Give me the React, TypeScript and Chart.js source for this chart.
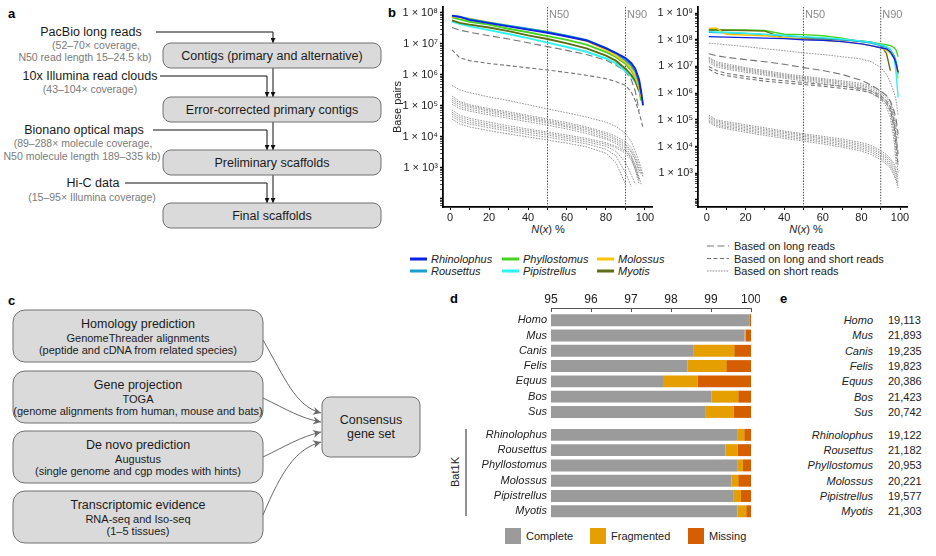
import React, { useEffect, useRef } from 'react';
import { Chart, registerables } from 'chart.js';

Chart.register(...registerables);

const FONT = '"Liberation Sans", Arial, Helvetica, sans-serif';
Chart.defaults.font.family = FONT;
Chart.defaults.color = '#222';

// ---------------- Panel b data ----------------
const N_PERCENT = [1, 5, 10, 20, 30, 40, 50, 60, 70, 80, 85, 90, 93, 95, 97, 98, 99];
const N_MARKERS = [50, 90];

// contig N(x) (left plot)
const CONTIG_RHINOLOPHUS = [8.2e7, 7.5e7, 6.0e7, 4.7e7, 3.7e7, 2.9e7, 2.3e7, 1.75e7, 1.3e7, 7.2e6, 5.2e6, 3.5e6, 2.4e6, 1.6e6, 7e5, 3e5, 1.05e5];
const CONTIG_ROUSETTUS = [8.0e7, 7.6e7, 6.3e7, 4.9e7, 3.9e7, 3.1e7, 2.45e7, 1.85e7, 1.35e7, 7.5e6, 5.0e6, 3.0e6, 2.0e6, 1.3e6, 5.5e5, 2.5e5, null];
const CONTIG_MOLOSSUS = [7.6e7, 7.2e7, 6.6e7, 5.0e7, 3.8e7, 3.0e7, 2.5e7, 1.8e7, 1.25e7, 6.5e6, 4.2e6, 2.6e6, 1.6e6, 9e5, 4e5, 2e5, null];
const CONTIG_PHYLLOSTOMUS = [7.2e7, 6.2e7, 5.2e7, 4.2e7, 3.1e7, 2.4e7, 1.8e7, 1.35e7, 9.5e6, 5.5e6, 3.8e6, 2.3e6, 1.4e6, 8.5e5, 4e5, 1.5e5, null];
const CONTIG_PIPISTRELLUS = [5.3e7, 4.5e7, 3.7e7, 2.8e7, 2.1e7, 1.55e7, 1.1e7, 8e6, 5.6e6, 3.4e6, 2.4e6, 1.35e6, 9e5, 6e5, 3.5e5, 1.8e5, null];
const CONTIG_MYOTIS = [5.8e7, 4.8e7, 4.2e7, 3.4e7, 2.6e7, 1.9e7, 1.45e7, 1.05e7, 7.2e6, 4.2e6, 2.9e6, 1.6e6, 1e6, 6.5e5, 3e5, null, null];

const CONTIG_LONG_1 = [3.4e7, 2.8e7, 2.4e7, 1.85e7, 1.45e7, 1.1e7, 8.2e6, 6.2e6, 4.6e6, 3e6, 2.1e6, 1.3e6, 7e5, 3e5, 7e4, null, null];
const CONTIG_LONGSHORT_1 = [6.5e6, 3.6e6, 2.9e6, 2.35e6, 2.0e6, 1.7e6, 1.45e6, 1.2e6, 9.8e5, 7.6e5, 6.2e5, 4.6e5, 2.8e5, 1.5e5, 6e4, 3.5e4, 2e4];
const CONTIG_SHORT_1 = [4.6e5, 3.3e5, 2.7e5, 1.95e5, 1.5e5, 1.1e5, 8e4, 6e4, 4.4e4, 3e4, 2.2e4, 1.3e4, 7e3, 3.5e3, 1.6e3, 1e3, 6e2];
const CONTIG_SHORT_2 = [2.1e5, 1.4e5, 1.1e5, 8.2e4, 6.5e4, 5e4, 3.8e4, 2.9e4, 2.1e4, 1.4e4, 1.05e4, 7e3, 4.5e3, 2.5e3, 1.2e3, 8e2, 5e2];
const CONTIG_SHORT_3 = [1.8e5, 1.25e5, 1e5, 7.5e4, 5.8e4, 4.5e4, 3.4e4, 2.6e4, 1.9e4, 1.25e4, 9e3, 6e3, 3.5e3, 2e3, 9e2, 6e2, null];
const CONTIG_SHORT_4 = [1.55e5, 1.1e5, 9e4, 6.8e4, 5.2e4, 4e4, 3.1e4, 2.3e4, 1.7e4, 1.1e4, 8e3, 5.2e3, 3.2e3, 1.8e3, 7e2, null, null];
const CONTIG_SHORT_5 = [1.35e5, 9.5e4, 7.8e4, 6e4, 4.6e4, 3.6e4, 2.8e4, 2.1e4, 1.5e4, 9.5e3, 7e3, 4.5e3, 2.5e3, 1.2e3, 4e2, null, null];
const CONTIG_SHORT_6 = [1.15e5, 8.2e4, 6.8e4, 5.2e4, 4e4, 3.1e4, 2.4e4, 1.8e4, 1.3e4, 8.5e3, 6.2e3, 3.8e3, 2e3, 9e2, 3e2, null, null];
const CONTIG_SHORT_7 = [7.5e4, 5e4, 4e4, 3e4, 2.3e4, 1.8e4, 1.45e4, 1.15e4, 9e3, 6.5e3, 5e3, 3.5e3, 2.2e3, 1.2e3, 5e2, 3e2, null];
const CONTIG_SHORT_8 = [6.3e4, 4.3e4, 3.5e4, 2.6e4, 2e4, 1.6e4, 1.3e4, 1.02e4, 8e3, 5.8e3, 4.5e3, 3e3, 1.8e3, 9e2, 4e2, null, null];
const CONTIG_SHORT_9 = [5.4e4, 3.7e4, 3e4, 2.3e4, 1.8e4, 1.4e4, 1.15e4, 9e3, 7e3, 5e3, 3.5e3, 1.5e3, 6e2, 3e2, null, null, null];
const CONTIG_SHORT_10 = [4.6e4, 3.2e4, 2.6e4, 2e4, 1.55e4, 1.2e4, 9.8e3, 7.8e3, 6e3, 4e3, 2.5e3, 7e2, 2.5e2, null, null, null, null];
const CONTIG_SHORT_11 = [3.8e4, 2.6e4, 2.1e4, 1.6e4, 1.25e4, 1e4, 8e3, 6.3e3, 4.8e3, 3e3, 1.5e3, 3e2, null, null, null, null, null];

// scaffold N(x) (right plot)
const SCAF_RHINOLOPHUS = [1.3e8, 1.28e8, 1.25e8, 1.2e8, 1.15e8, 1.1e8, 1.0e8, 9.5e7, 8.5e7, 7e7, 6e7, 5e7, 4.5e7, 3.5e7, 2e7, 1.2e7, 6e6];
const SCAF_ROUSETTUS = [1.9e8, 1.85e8, 1.8e8, 1.7e8, 1.55e8, 1.4e8, 1.25e8, 1.12e8, 1e8, 8.5e7, 7.5e7, 6e7, 5.2e7, 4.2e7, 2.5e7, 1.5e7, 5e6];
const SCAF_MOLOSSUS = [2.7e8, 2.7e8, 1.6e8, 1.5e8, 1.4e8, 1.2e8, 1.05e8, 9.5e7, 8.5e7, 7e7, 6e7, 5e7, 4e7, 3e7, 2e7, 1e7, 3.5e6];
const SCAF_PHYLLOSTOMUS = [2.3e8, 2.3e8, 2.3e8, 2.3e8, 2.2e8, 1.6e8, 1.55e8, 1.4e8, 1.15e8, 8.5e7, 8e7, 7e7, 6.5e7, 6e7, 5e7, 4e7, 2.3e7];
const SCAF_PIPISTRELLUS = [2e8, 1.95e8, 1.9e8, 1.75e8, 1.6e8, 1.45e8, 1.3e8, 1.2e8, 1.05e8, 9e7, 8e7, 6.5e7, 5.5e7, 4.5e7, 2e7, 5e6, 7e5];
const SCAF_MYOTIS = [2.3e8, 2.3e8, 2.25e8, 2.2e8, 2.1e8, 1.15e8, 1.1e8, 1.05e8, 1e8, 9e7, 8e7, 6.5e7, 3e7, 7e6, null, null, null];

const SCAF_SHORT_TOP = [7.5e7, 7e7, 6.5e7, 5.5e7, 4.6e7, 3.9e7, 3.2e7, 2.8e7, 2.3e7, 1.9e7, 1.5e7, 9e6, 5e6, 2.5e6, 1e6, 5e5, 1.5e5];
const SCAF_LONG_1 = [3e7, 2.5e7, 2.2e7, 1.8e7, 1.5e7, 1.2e7, 9e6, 7e6, 5e6, 3e6, 2e6, 1.2e6, 8e5, 5e5, 2e5, 1e5, 3e4];
const SCAF_SHORT_G1 = [2.2e7, 1.5e7, 1.25e7, 9e6, 7e6, 5.3e6, 4.3e6, 3.5e6, 2.9e6, 2.3e6, 1.8e6, 1.2e6, 8e5, 5e5, 1.5e5, 6e4, 2e4];
const SCAF_SHORT_G2 = [2e7, 1.35e7, 1.1e7, 8.2e6, 6.3e6, 4.8e6, 3.9e6, 3.2e6, 2.6e6, 2e6, 1.6e6, 1e6, 6.5e5, 4e5, 1e5, 3e4, 5e3];
const SCAF_SHORT_G3 = [1.8e7, 1.2e7, 1e7, 7.5e6, 5.8e6, 4.4e6, 3.6e6, 2.9e6, 2.3e6, 1.8e6, 1.4e6, 8.5e5, 5e5, 3e5, 6e4, 1.5e4, 2e3];
const SCAF_SHORT_G4 = [1.6e7, 1.1e7, 9e6, 6.8e6, 5.2e6, 4e6, 3.3e6, 2.6e6, 2.1e6, 1.6e6, 1.2e6, 7e5, 4e5, 2e5, 3e4, 5e3, 1e3];
const SCAF_SHORT_G5 = [1.4e7, 9.5e6, 8e6, 6e6, 4.7e6, 3.6e6, 2.9e6, 2.3e6, 1.8e6, 1.4e6, 1e6, 6e5, 3e5, 1.2e5, 1.5e4, 2e3, null];
const SCAF_LONGSHORT_1 = [1e7, 7e6, 5.5e6, 4.2e6, 3.4e6, 2.9e6, 2.5e6, 2.1e6, 1.8e6, 1.5e6, 1.2e6, 8e5, 5e5, 3e5, 8e4, 2e4, 5e3];
const SCAF_LONGSHORT_2 = [8e6, 5.5e6, 4.5e6, 3.5e6, 2.8e6, 2.4e6, 2.1e6, 1.8e6, 1.5e6, 1.25e6, 1e6, 6.5e5, 4e5, 2.2e5, 5e4, 1e4, 2e3];
const SCAF_SHORT_H1 = [1.5e5, 1e5, 8.5e4, 6.5e4, 5e4, 3.8e4, 3e4, 2.4e4, 1.9e4, 1.4e4, 1.1e4, 7e3, 5e3, 3.5e3, 2.2e3, 1.6e3, 1.2e3];
const SCAF_SHORT_H2 = [1.3e5, 9e4, 7.5e4, 5.7e4, 4.4e4, 3.4e4, 2.7e4, 2.1e4, 1.65e4, 1.2e4, 9.5e3, 6e3, 4.2e3, 3e3, 1.8e3, 1.2e3, 8e2];
const SCAF_SHORT_H3 = [1.15e5, 8e4, 6.7e4, 5e4, 3.9e4, 3e4, 2.4e4, 1.9e4, 1.45e4, 1.05e4, 8.2e3, 5.2e3, 3.6e3, 2.5e3, 1.5e3, 1e3, 6e2];
const SCAF_SHORT_H4 = [1e5, 7e4, 5.9e4, 4.4e4, 3.4e4, 2.6e4, 2.1e4, 1.65e4, 1.25e4, 9e3, 7e3, 4.5e3, 3e3, 2.1e3, 1.2e3, 8e2, 4.5e2];
const SCAF_SHORT_H5 = [9e4, 6.2e4, 5.2e4, 3.9e4, 3e4, 2.3e4, 1.85e4, 1.45e4, 1.1e4, 7.8e3, 6e3, 3.8e3, 2.6e3, 1.8e3, 1e3, 6e2, 3.5e2];
const SCAF_SHORT_H6 = [8e4, 5.5e4, 4.6e4, 3.4e4, 2.6e4, 2e4, 1.6e4, 1.25e4, 9.5e3, 6.7e3, 5e3, 3.2e3, 2.2e3, 1.5e3, 8e2, 5e2, 2.8e2];

const CONTIG_BATS: [string, (number | null)[]][] = [
  ['Rhinolophus', CONTIG_RHINOLOPHUS],
  ['Rousettus', CONTIG_ROUSETTUS],
  ['Molossus', CONTIG_MOLOSSUS],
  ['Phyllostomus', CONTIG_PHYLLOSTOMUS],
  ['Myotis', CONTIG_MYOTIS],
  ['Pipistrellus', CONTIG_PIPISTRELLUS],
];
const CONTIG_OTHERS: [string, (number | null)[]][] = [
  ['long', CONTIG_LONG_1], ['longshort', CONTIG_LONGSHORT_1],
  ['short', CONTIG_SHORT_1], ['short', CONTIG_SHORT_2], ['short', CONTIG_SHORT_3], ['short', CONTIG_SHORT_4],
  ['short', CONTIG_SHORT_5], ['short', CONTIG_SHORT_6], ['short', CONTIG_SHORT_7], ['short', CONTIG_SHORT_8],
  ['short', CONTIG_SHORT_9], ['short', CONTIG_SHORT_10], ['short', CONTIG_SHORT_11],
];
const SCAF_BATS: [string, (number | null)[]][] = [
  ['Rhinolophus', SCAF_RHINOLOPHUS],
  ['Pipistrellus', SCAF_PIPISTRELLUS],
  ['Molossus', SCAF_MOLOSSUS],
  ['Rousettus', SCAF_ROUSETTUS],
  ['Myotis', SCAF_MYOTIS],
  ['Phyllostomus', SCAF_PHYLLOSTOMUS],
];
const SCAF_OTHERS: [string, (number | null)[]][] = [
  ['short', SCAF_SHORT_TOP], ['long', SCAF_LONG_1],
  ['short', SCAF_SHORT_G1], ['short', SCAF_SHORT_G2], ['short', SCAF_SHORT_G3], ['short', SCAF_SHORT_G4], ['short', SCAF_SHORT_G5],
  ['longshort', SCAF_LONGSHORT_1], ['longshort', SCAF_LONGSHORT_2],
  ['short', SCAF_SHORT_H1], ['short', SCAF_SHORT_H2], ['short', SCAF_SHORT_H3],
  ['short', SCAF_SHORT_H4], ['short', SCAF_SHORT_H5], ['short', SCAF_SHORT_H6],
];

const LEGEND_SPECIES = ['Rhinolophus', 'Rousettus', 'Phyllostomus', 'Pipistrellus', 'Molossus', 'Myotis'];
const LEGEND_READS: [string, string][] = [
  ['long', 'Based on long reads'],
  ['longshort', 'Based on long and short reads'],
  ['short', 'Based on short reads'],
];

// ---------------- Panel d / e data ----------------
const BUSCO_SPECIES = ['Homo', 'Mus', 'Canis', 'Felis', 'Equus', 'Bos', 'Sus', 'Rhinolophus', 'Rousettus', 'Phyllostomus', 'Molossus', 'Pipistrellus', 'Myotis'];
const BUSCO_GROUP = [0, 0, 0, 0, 0, 0, 0, 1, 1, 1, 1, 1, 1];
const BUSCO_COMPLETE = [99.97, 99.84, 98.57, 98.41, 97.8, 99.01, 98.87, 99.67, 99.36, 99.67, 99.51, 99.57, 99.66];
const BUSCO_FRAGMENTED = [0.0, 0.03, 1.01, 0.97, 0.86, 0.67, 0.69, 0.16, 0.3, 0.13, 0.17, 0.18, 0.22];
const BUSCO_MISSING = [0.03, 0.13, 0.42, 0.62, 1.34, 0.32, 0.44, 0.17, 0.34, 0.2, 0.32, 0.25, 0.12];
const BUSCO_TICKS = [95, 96, 97, 98, 99, 100];
const GENE_COUNTS = [19113, 21893, 19235, 19823, 20386, 21423, 20742, 19122, 21182, 20953, 20221, 19577, 21303];

// ---------------- styles ----------------
const SPECIES_COLOR: Record<string, string> = {
  Rhinolophus: '#0b22e2',
  Rousettus: '#1b9fcf',
  Phyllostomus: '#46d31e',
  Pipistrellus: '#2ff2f4',
  Molossus: '#ffc300',
  Myotis: '#5c6f12',
};
const DASH: Record<string, number[]> = { long: [7, 3.5], longshort: [4, 2.5], short: [1.6, 1.2] };
const GRAY: Record<string, string> = { long: '#747474', longshort: '#747474', short: '#8a8a8a' };
const BUSCO_COLORS = { complete: '#9b9b9b', fragmented: '#e69f00', missing: '#d55e00' };

const ROW_POS = BUSCO_GROUP.map((g, i) => i + g * 0.5);

const SUP = ['⁰', '¹', '²', '³', '⁴', '⁵', '⁶', '⁷', '⁸', '⁹'];
function isDecade(v: number) {
  const e = Math.round(Math.log10(v));
  return Math.abs(v / Math.pow(10, e) - 1) < 1e-9;
}
function decadeLabel(v: number) {
  if (!isDecade(v)) return '';
  const e = Math.round(Math.log10(v));
  return e >= 3 ? `1 × 10${SUP[e]}` : '';
}
function logTickValues(min: number, max: number) {
  const out: number[] = [];
  for (let e = Math.floor(Math.log10(min)); e <= Math.ceil(Math.log10(max)); e++) {
    for (let k = 1; k <= 9; k++) {
      const v = k * Math.pow(10, e);
      if (v >= min && v <= max) out.push(v);
    }
  }
  return out;
}
// keep the chart area exactly where layout.padding + fixed axis sizes put it
function fixSize(prop: 'width' | 'height', size: number) {
  return (s: any) => {
    s[prop] = size;
    s.paddingLeft = 0;
    s.paddingRight = 0;
    s.paddingTop = 0;
    s.paddingBottom = 0;
  };
}

const nLinesPlugin = {
  id: 'nLines',
  beforeDatasetsDraw(chart: any) {
    const { ctx, chartArea, scales } = chart;
    const x = scales.x;
    ctx.save();
    N_MARKERS.forEach((m) => {
      const px = x.getPixelForValue(m);
      ctx.strokeStyle = '#4a4a4a';
      ctx.lineWidth = 1;
      ctx.setLineDash([1.4, 1.4]);
      ctx.beginPath();
      ctx.moveTo(px, chartArea.top);
      ctx.lineTo(px, chartArea.bottom);
      ctx.stroke();
      ctx.setLineDash([]);
      ctx.fillStyle = '#8a8a8a';
      ctx.font = `11px ${FONT}`;
      ctx.textBaseline = 'top';
      ctx.textAlign = 'left';
      ctx.fillText('N' + m, px + 1.5, chartArea.top + 2);
    });
    ctx.restore();
  },
};

function lineConfig(
  bats: [string, (number | null)[]][],
  others: [string, (number | null)[]][],
  o: { yMin: number; yMax: number; yWidth: number; yTitle: boolean; xMin: number; xMax: number; batWidth: number }
): any {
  const toPts = (vals: (number | null)[]) => N_PERCENT.map((x, i) => ({ x, y: vals[i] }));
  const datasets = [
    ...bats.map(([name, vals]) => ({
      label: name,
      data: toPts(vals),
      borderColor: SPECIES_COLOR[name],
      borderWidth: o.batWidth,
      pointRadius: 0,
      tension: 0,
      fill: false,
    })),
    ...others.map(([kind, vals], i) => ({
      label: kind + i,
      data: toPts(vals),
      borderColor: GRAY[kind],
      borderWidth: kind === 'short' ? 0.9 : 1.1,
      borderDash: DASH[kind],
      pointRadius: 0,
      tension: 0,
      fill: false,
    })),
  ];
  return {
    type: 'line',
    data: { datasets },
    options: {
      animation: false,
      responsive: false,
      events: [],
      layout: { padding: { top: 7, right: 8, left: 0, bottom: 0 } },
      plugins: { legend: { display: false }, tooltip: { enabled: false } },
      scales: {
        x: {
          type: 'linear',
          min: o.xMin,
          max: o.xMax,
          afterFit: fixSize('height', 18),
          ticks: {
            stepSize: 10, includeBounds: false, autoSkip: false, maxRotation: 0, padding: 1,
            color: '#222', font: { size: 11 },
            callback: (v: number) => (v % 20 === 0 ? String(v) : ''),
          },
          grid: { display: true, drawOnChartArea: false, drawTicks: true, tickLength: 3, tickColor: '#000', tickWidth: 1 },
          border: { display: true, color: '#000', width: 1.8 },
        },
        y: {
          type: 'logarithmic',
          min: o.yMin,
          max: o.yMax,
          afterFit: fixSize('width', o.yWidth),
          afterBuildTicks: (s: any) => {
            s.ticks = logTickValues(o.yMin, o.yMax).map((v) => ({ value: v }));
          },
          ticks: { autoSkip: false, padding: 2, color: '#222', font: { size: 11 }, callback: (v: number) => decadeLabel(v) },
          grid: {
            display: true, drawOnChartArea: false, drawTicks: true, tickLength: 3, tickColor: '#000',
            tickWidth: (ctx: any) => (ctx.tick && isDecade(ctx.tick.value) ? 1.3 : 0.7),
          },
          border: { display: true, color: '#000', width: 1.8 },
          title: { display: o.yTitle, text: 'Base pairs', color: '#222', font: { size: 11 }, padding: { top: 3, bottom: 0 } },
        },
      },
    },
    plugins: [nLinesPlugin],
  };
}

function buscoConfig(): any {
  const mk = (label: string, vals: number[], color: string) => ({
    label,
    data: ROW_POS.map((p, i) => ({ x: vals[i], y: p })),
    backgroundColor: color,
    borderWidth: 0,
    barPercentage: 0.78,
    categoryPercentage: 1,
  });
  return {
    type: 'bar',
    data: {
      datasets: [
        mk('Complete', BUSCO_COMPLETE, BUSCO_COLORS.complete),
        mk('Fragmented', BUSCO_FRAGMENTED, BUSCO_COLORS.fragmented),
        mk('Missing', BUSCO_MISSING, BUSCO_COLORS.missing),
      ],
    },
    options: {
      indexAxis: 'y',
      animation: false,
      responsive: false,
      events: [],
      layout: { padding: { top: 0, right: 9, left: 0, bottom: 0 } },
      plugins: { legend: { display: false }, tooltip: { enabled: false } },
      scales: {
        x: {
          type: 'linear',
          position: 'top',
          min: BUSCO_TICKS[0],
          max: BUSCO_TICKS[BUSCO_TICKS.length - 1],
          stacked: true,
          afterFit: fixSize('height', 18),
          afterBuildTicks: (s: any) => { s.ticks = BUSCO_TICKS.map((v) => ({ value: v })); },
          ticks: { autoSkip: false, maxRotation: 0, padding: 5, color: '#222', font: { size: 12 } },
          grid: { display: true, drawOnChartArea: false, drawTicks: true, tickLength: -4, tickColor: '#555', tickWidth: 1 },
          border: { display: true, color: '#555', width: 1 },
        },
        y: {
          type: 'linear',
          reverse: true,
          offset: false,
          min: -0.8,
          max: 13.07,
          stacked: true,
          afterFit: fixSize('width', 83),
          afterBuildTicks: (s: any) => { s.ticks = ROW_POS.map((v) => ({ value: v })); },
          ticks: {
            autoSkip: false, padding: 4, color: '#222', font: { size: 11, style: 'italic' },
            callback: (v: number) => BUSCO_SPECIES[ROW_POS.indexOf(v)] ?? '',
          },
          grid: { display: false, drawTicks: false, offset: false },
          border: { display: false },
        },
      },
    },
  };
}

const BOX_FILL = '#dadada';
const BOX_STROKE = '#707070';

function PanelA() {
  const boxes: [number, string][] = [
    [43, 'Contigs (primary and alternative)'],
    [97, 'Error-corrected primary contigs'],
    [150, 'Preliminary scaffolds'],
    [203, 'Final scaffolds'],
  ];
  const inputs: [number, number, string][] = [
    [91, 32, 'PacBio long reads'],
    [90, 76, '10x Illumina read clouds'],
    [84, 130, 'Bionano optical maps'],
    [93, 183, 'Hi-C data'],
  ];
  const notes: [number, number, string][] = [
    [96, 45, '(52–70× coverage,'],
    [85, 57, 'N50 read length 15–24.5 kb)'],
    [90, 89, '(43–104× coverage)'],
    [83, 143, '(89–288× molecule coverage,'],
    [82, 156, 'N50 molecule length 189–335 kb)'],
    [92, 197, '(15–95× Illumina coverage)'],
  ];
  const arrows = [
    'M156,32 H273 V43',
    'M273,68 V97',
    'M160,76 H267 V97',
    'M273,122 V150',
    'M153,130 H267 V150',
    'M273,175 V203',
    'M125,183 H267 V203',
  ];
  return (
    <g>
      <text x={8} y={13} fontSize={13} fontWeight="bold" dominantBaseline="central">a</text>
      {arrows.map((d, i) => (
        <path key={i} d={d} fill="none" stroke="#111" strokeWidth={1} markerEnd="url(#arrowA)" />
      ))}
      {boxes.map(([y, t]) => (
        <g key={t}>
          <rect x={163} y={y} width={218} height={25} rx={8} fill={BOX_FILL} stroke={BOX_STROKE} strokeWidth={1} />
          <text x={272} y={y + 12.8} textAnchor="middle" dominantBaseline="central" fontSize={12.5} fill="#1a1a1a">{t}</text>
        </g>
      ))}
      {inputs.map(([x, y, t]) => (
        <text key={t} x={x} y={y} textAnchor="middle" dominantBaseline="central" fontSize={12.5} fill="#1a1a1a">{t}</text>
      ))}
      {notes.map(([x, y, t]) => (
        <text key={t} x={x} y={y} textAnchor="middle" dominantBaseline="central" fontSize={10.5} fill="#7a7a7a">{t}</text>
      ))}
    </g>
  );
}

function PanelC() {
  const boxes: [number, string, string, string][] = [
    [310, 'Homology prediction', 'GenomeThreader alignments', '(peptide and cDNA from related species)'],
    [371, 'Gene projection', 'TOGA', '(genome alignments from human, mouse and bats)'],
    [431, 'De novo prediction', 'Augustus', '(single genome and cgp modes with hints)'],
    [491, 'Transcriptomic evidence', 'RNA-seq and Iso-seq', '(1–5 tissues)'],
  ];
  const curves = [
    'M263,340 C285,378 295,406 321,413',
    'M263,398 C288,410 300,418 321,422',
    'M263,457 C286,446 300,437 321,432',
    'M263,515 C282,470 296,449 321,442',
  ];
  return (
    <g>
      <text x={8} y={300} fontSize={13} fontWeight="bold" dominantBaseline="central">c</text>
      {boxes.map(([y, t, s1, s2]) => (
        <g key={t}>
          <rect x={13} y={y} width={250} height={52} rx={12} fill={BOX_FILL} stroke={BOX_STROKE} strokeWidth={1} />
          <text x={138} y={y + 14} textAnchor="middle" dominantBaseline="central" fontSize={12.5} fill="#1a1a1a">{t}</text>
          <text x={138} y={y + 27.5} textAnchor="middle" dominantBaseline="central" fontSize={11} fill="#1a1a1a">{s1}</text>
          <text x={138} y={y + 40} textAnchor="middle" dominantBaseline="central" fontSize={11} fill="#1a1a1a">{s2}</text>
        </g>
      ))}
      {curves.map((d, i) => (
        <path key={i} d={d} fill="none" stroke="#6a6a6a" strokeWidth={1} markerEnd="url(#arrowC)" />
      ))}
      <rect x={322} y={397} width={98} height={60} rx={8} fill={BOX_FILL} stroke={BOX_STROKE} strokeWidth={1} />
      <text x={371} y={420} textAnchor="middle" dominantBaseline="central" fontSize={12.5} fill="#1a1a1a">Consensus</text>
      <text x={371} y={434} textAnchor="middle" dominantBaseline="central" fontSize={12.5} fill="#1a1a1a">gene set</text>
    </g>
  );
}

function PanelBOverlay() {
  const cols = [410, 502, 597];
  const rows = [259, 271];
  return (
    <g>
      <text x={388} y={12} fontSize={13} fontWeight="bold" dominantBaseline="central">b</text>
      <text x={548} y={229} textAnchor="middle" dominantBaseline="central" fontSize={11} fill="#222">
        <tspan fontStyle="italic">N</tspan>(<tspan fontStyle="italic">x</tspan>) %
      </text>
      <text x={806} y={229} textAnchor="middle" dominantBaseline="central" fontSize={11} fill="#222">
        <tspan fontStyle="italic">N</tspan>(<tspan fontStyle="italic">x</tspan>) %
      </text>
      {LEGEND_SPECIES.map((name, i) => {
        const x = cols[Math.floor(i / 2)];
        const y = rows[i % 2];
        return (
          <g key={name}>
            <line x1={x} x2={x + 17} y1={y} y2={y} stroke={SPECIES_COLOR[name]} strokeWidth={3} />
            <text x={x + 21} y={y} dominantBaseline="central" fontSize={11} fontStyle="italic" fill="#222">{name}</text>
          </g>
        );
      })}
      {LEGEND_READS.map(([kind, label], i) => {
        const y = 246 + i * 12.5;
        return (
          <g key={kind}>
            <line x1={707} x2={729} y1={y} y2={y} stroke={GRAY[kind]} strokeWidth={1.1} strokeDasharray={DASH[kind].join(' ')} />
            <text x={734} y={y} dominantBaseline="central" fontSize={11} fill="#222">{label}</text>
          </g>
        );
      })}
    </g>
  );
}

const ROW_TOP = 320.2;
const ROW_STEP = 15.28;

function PanelDEOverlay() {
  const legend: [string, string, number][] = [
    ['Complete', BUSCO_COLORS.complete, 505],
    ['Fragmented', BUSCO_COLORS.fragmented, 590],
    ['Missing', BUSCO_COLORS.missing, 688],
  ];
  return (
    <g>
      <text x={450} y={298} fontSize={13} fontWeight="bold" dominantBaseline="central">d</text>
      <text x={780} y={298} fontSize={13} fontWeight="bold" dominantBaseline="central">e</text>
      <line x1={466} x2={466} y1={429} y2={516} stroke="#222" strokeWidth={1} />
      <text x={455} y={472} fontSize={11} fill="#222" textAnchor="middle" dominantBaseline="central" transform="rotate(-90 455 472)">Bat1K</text>
      {legend.map(([t, c, x]) => (
        <g key={t}>
          <rect x={x} y={528} width={16} height={16} fill={c} />
          <text x={x + 21} y={536} fontSize={11} fill="#222" dominantBaseline="central">{t}</text>
        </g>
      ))}
      {BUSCO_SPECIES.map((s, i) => {
        const y = ROW_TOP + ROW_POS[i] * ROW_STEP;
        return (
          <g key={s}>
            <text x={873} y={y} fontSize={11} fontStyle="italic" textAnchor="end" dominantBaseline="central" fill="#222">{s}</text>
            <text x={888} y={y} fontSize={11} dominantBaseline="central" fill="#222">{GENE_COUNTS[i].toLocaleString('en-US')}</text>
          </g>
        );
      })}
    </g>
  );
}

export default function App() {
  const leftRef = useRef<HTMLCanvasElement>(null);
  const rightRef = useRef<HTMLCanvasElement>(null);
  const buscoRef = useRef<HTMLCanvasElement>(null);

  useEffect(() => {
    const charts: Chart[] = [];
    if (leftRef.current) {
      charts.push(new Chart(leftRef.current, lineConfig(CONTIG_BATS, CONTIG_OTHERS, {
        yMin: 55, yMax: 1.56e8, yWidth: 55, yTitle: true, xMin: -3.6, xMax: 103.6, batWidth: 1.9,
      })));
    }
    if (rightRef.current) {
      charts.push(new Chart(rightRef.current, lineConfig(SCAF_BATS, SCAF_OTHERS, {
        yMin: 54, yMax: 1.68e9, yWidth: 40, yTitle: false, xMin: -4.6, xMax: 103.6, batWidth: 1.4,
      })));
    }
    if (buscoRef.current) {
      charts.push(new Chart(buscoRef.current, buscoConfig()));
    }
    return () => charts.forEach((c) => c.destroy());
  }, []);

  return (
    <div style={{ position: 'absolute', left: 0, top: 0, width: 936, height: 556, background: '#fff', fontFamily: FONT, overflow: 'hidden' }}>
      <svg width={936} height={556} style={{ position: 'absolute', left: 0, top: 0 }} fontFamily={FONT}>
        <defs>
          <marker id="arrowA" viewBox="0 0 10 10" refX={10} refY={5} markerWidth={5} markerHeight={5} markerUnits="userSpaceOnUse" orient="auto">
            <path d="M0,0 L10,5 L0,10 z" fill="#111" />
          </marker>
          <marker id="arrowC" viewBox="0 0 10 10" refX={10} refY={5} markerWidth={9} markerHeight={8} markerUnits="userSpaceOnUse" orient="auto">
            <path d="M0,0 L10,5 L0,10 L3,5 z" fill="#6a6a6a" />
          </marker>
        </defs>
        <PanelA />
        <PanelC />
        <PanelBOverlay />
        <PanelDEOverlay />
      </svg>
      <canvas ref={leftRef} width={272} height={225} style={{ position: 'absolute', left: 388, top: 0 }} />
      <canvas ref={rightRef} width={257} height={225} style={{ position: 'absolute', left: 658, top: 0 }} />
      <canvas ref={buscoRef} width={292} height={230} style={{ position: 'absolute', left: 468, top: 290 }} />
    </div>
  );
}
